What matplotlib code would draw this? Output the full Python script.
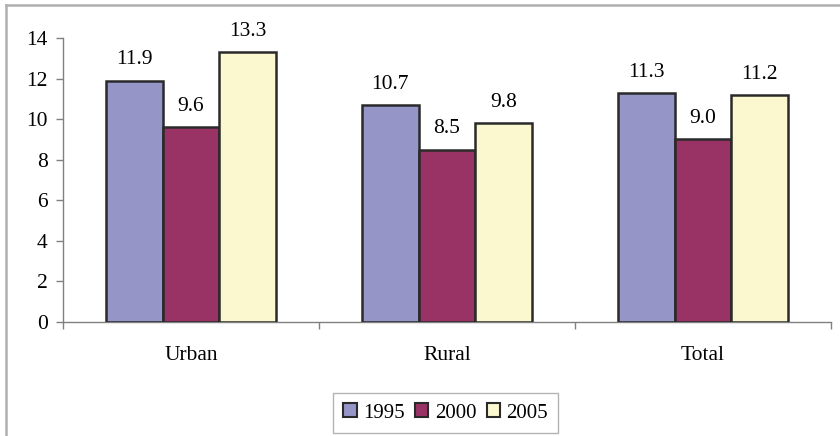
import matplotlib
matplotlib.use("Agg")
import matplotlib.pyplot as plt
from matplotlib.lines import Line2D
from matplotlib.patches import Patch
import numpy as np

categories = ["Urban", "Rural", "Total"]
years = ["1995", "2000", "2005"]
values_1995 = [11.9, 10.7, 11.3]
values_2000 = [9.6, 8.5, 9.0]
values_2005 = [13.3, 9.8, 11.2]
y_ticks = [0, 2, 4, 6, 8, 10, 12, 14]

COLORS = ["#9595c8", "#993366", "#fbf8d0"]
EDGE = "#2a2a2a"

plt.rcParams.update({
    "font.family": ["Liberation Serif", "DejaVu Serif"],
    "font.size": 15.5,
})

fig = plt.figure(figsize=(8.4, 4.36), dpi=100)
ax = fig.add_axes([63 / 840, 1 - 322 / 436, (831 - 63) / 840, (322 - 38) / 436])

x = np.arange(len(categories))
width = 0.222
series = [values_1995, values_2000, values_2005]
for i, (vals, color) in enumerate(zip(series, COLORS)):
    pos = x + (i - 1) * width
    ax.bar(pos, vals, width=width, color=color, edgecolor=EDGE,
           linewidth=1.8, zorder=3)
    for xi, v in zip(pos, vals):
        ax.annotate(f"{v:.1f}", (xi, v), xytext=(0, 8), textcoords="offset points",
                    ha="center", va="bottom", fontsize=15.5)

ax.set_xlim(-0.5, 2.5)
ax.set_ylim(0, 14)
ax.set_yticks(y_ticks)
ax.set_xticks([-0.5, 0.5, 1.5, 2.5])
ax.set_xticklabels([])
ax.set_xticks(x, minor=True)
ax.set_xticklabels(categories, minor=True)
ax.tick_params(axis="x", which="minor", length=0, pad=17, labelsize=15.5)
ax.tick_params(axis="x", which="major", length=5, width=1, color="#808080")
ax.tick_params(axis="y", length=5, width=1, color="#808080", pad=6, labelsize=15.5)

for side in ["top", "right"]:
    ax.spines[side].set_visible(False)
for side in ["left", "bottom"]:
    ax.spines[side].set_color("#808080")
    ax.spines[side].set_linewidth(1.0)

handles = [Patch(facecolor=c, edgecolor=EDGE, linewidth=1.5) for c in COLORS]
leg = fig.legend(handles, years, loc="center", bbox_to_anchor=(445.5 / 840, 1 - 413 / 436),
                 ncol=3, fontsize=15, frameon=True, fancybox=False,
                 handlelength=0.65, handleheight=0.65, handletextpad=0.3,
                 columnspacing=0.5, borderpad=0.5)
leg.get_frame().set_edgecolor("#a0a0a0")
leg.get_frame().set_linewidth(1.0)

# outer frame (only top and left visible in the reference)
fig.add_artist(Line2D([6 / 840, 1.0], [1 - 5 / 436, 1 - 5 / 436],
                      transform=fig.transFigure, color="#b0b0b0", linewidth=1.8))
fig.add_artist(Line2D([6 / 840, 6 / 840], [0, 1 - 5 / 436],
                      transform=fig.transFigure, color="#b0b0b0", linewidth=1.8))

fig.savefig("out.png", dpi=100)
